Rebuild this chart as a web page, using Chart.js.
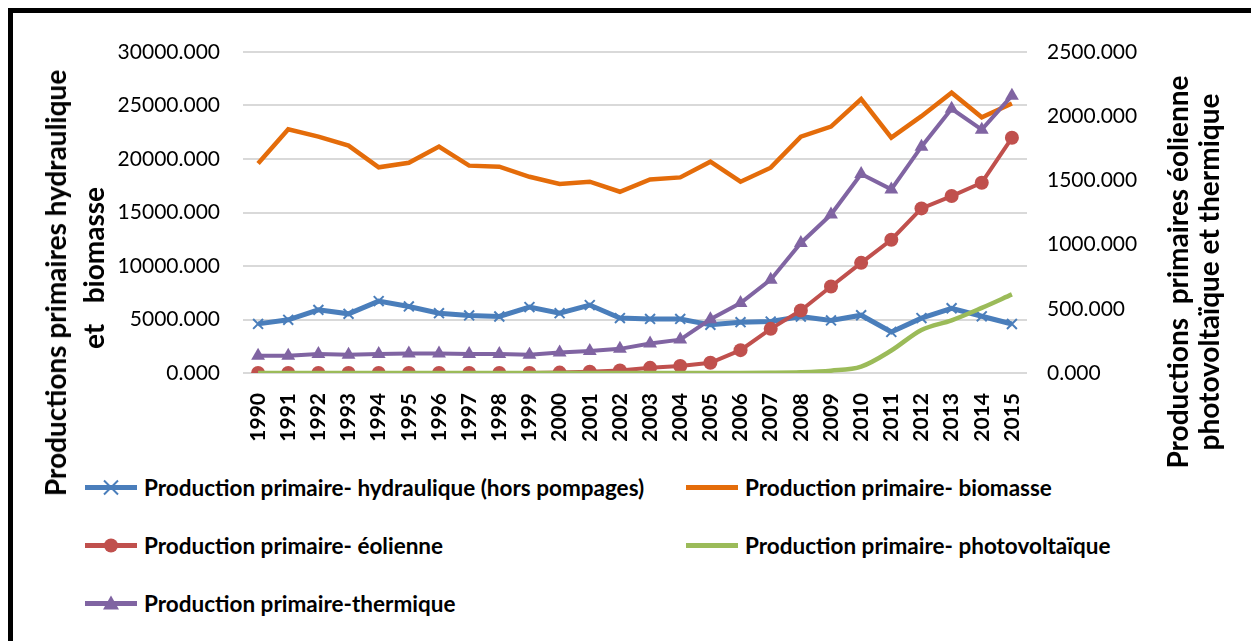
<!DOCTYPE html>
<html lang="fr">
<head>
<meta charset="utf-8">
<title>Productions primaires</title>
<script src="https://cdn.jsdelivr.net/npm/chart.js@4.4.1/dist/chart.umd.min.js"></script>
<style>
    body { margin: 0; background: #fff; font-family: Lato, "Open Sans", sans-serif; }
    #wrap { position: relative; width: 1251px; height: 641px; overflow: hidden; background: #fff; }
    #frame { position: absolute; left: 8px; top: 8px; right: -20px; bottom: -20px; border-top: 5px solid #000; border-left: 5px solid #000; }
    #box { position: absolute; left: 0; top: 0; width: 1251px; height: 470px; }
    .ytitle { position: absolute; font-weight: bold; font-size: 28px; white-space: nowrap; color: #000;
              transform: translate(-50%, -50%) rotate(-90deg); }
    .leg { position: absolute; display: flex; align-items: center; font-weight: bold; font-size: 22.5px;
           white-space: nowrap; color: #000; transform: translateY(-50%); }
    .leg svg { margin-right: 7px; }
</style>
</head>
<body>
<div id="wrap">
    <div id="frame"></div>
    <div id="box"><canvas id="chart"></canvas></div>

    <div class="ytitle" style="left:55px; top:283px;">Productions primaires hydraulique</div>
    <div class="ytitle" style="left:93px; top:268px;">et&nbsp;&nbsp;&nbsp;biomasse</div>
    <div class="ytitle" style="left:1177px; top:272px;">Productions&nbsp;&nbsp;primaires éolienne</div>
    <div class="ytitle" style="left:1208px; top:272px;">photovoltaïque et thermique</div>

    <div id="legend"></div>
</div>

<script>
const years = [
    "1990", "1991", "1992", "1993", "1994", "1995", "1996", "1997", "1998",
    "1999", "2000", "2001", "2002", "2003", "2004", "2005", "2006", "2007",
    "2008", "2009", "2010", "2011", "2012", "2013", "2014", "2015"
];

// left axis
const hydraulique = [
    4590, 4970, 5900, 5530, 6720, 6220, 5590, 5380, 5280, 6160, 5590, 6350, 5130,
    5050, 5050, 4500, 4750, 4810, 5280, 4910, 5400, 3840, 5130, 6050, 5300, 4580
];
const biomasse = [
    19590, 22780, 22090, 21250, 19220, 19650, 21160, 19380, 19280, 18340, 17660, 17880, 16940,
    18090, 18280, 19750, 17880, 19190, 22090, 23030, 25600, 22000, 24000, 26200, 23900, 25180
];

// right axis
const eolienne = [
    0, 0, 0, 0, 0, 0, 0, 0, 0, 0, 3, 10, 20,
    40, 55, 80, 178, 344, 487, 674, 858, 1038, 1282, 1378, 1482, 1832
];
const photovoltaique = [
    0, 0, 0, 0, 0, 0, 0, 0, 0, 0, 0, 0, 0,
    0, 0, 0, 0, 1, 5, 18, 50, 175, 335, 410, 507, 612
];
const thermique = [
    135, 135, 148, 143, 148, 152, 152, 148, 148, 143, 160, 172, 188,
    230, 260, 418, 545, 727, 1013, 1234, 1550, 1430, 1763, 2058, 1895, 2160
];

const leftTicks = [0, 5000, 10000, 15000, 20000, 25000, 30000];
const rightTicks = [0, 500, 1000, 1500, 2000, 2500];

const BLUE = "#4A7EBB";
const ORANGE = "#E46C0A";
const RED = "#C0504D";
const GREEN = "#9BBB59";
const PURPLE = "#8064A2";

const tickFont = { family: "Lato", size: 21 };

const ctx = document.getElementById("chart");

const chart = new Chart(ctx, {

    type: "line",

    data: {

        labels: years,

        datasets: [

            {
                label: "Production primaire- hydraulique (hors pompages)",
                data: hydraulique,
                yAxisID: "y",
                borderColor: BLUE,
                backgroundColor: BLUE,
                borderWidth: 5,
                pointStyle: "crossRot",
                pointRadius: 7,
                pointBorderWidth: 2,
                order: 5
            },

            {
                label: "Production primaire- biomasse",
                data: biomasse,
                yAxisID: "y",
                borderColor: ORANGE,
                backgroundColor: ORANGE,
                borderWidth: 4.5,
                pointRadius: 0,
                order: 4
            },

            {
                label: "Production primaire- éolienne",
                data: eolienne,
                yAxisID: "y1",
                borderColor: RED,
                backgroundColor: RED,
                borderWidth: 4,
                pointStyle: "circle",
                pointRadius: 7,
                pointBorderWidth: 0,
                order: 3
            },

            {
                label: "Production primaire- photovoltaïque",
                data: photovoltaique,
                yAxisID: "y1",
                borderColor: GREEN,
                backgroundColor: GREEN,
                borderWidth: 4.5,
                pointRadius: 0,
                tension: 0.4,
                cubicInterpolationMode: "monotone",
                order: 2
            },

            {
                label: "Production primaire-thermique",
                data: thermique,
                yAxisID: "y1",
                borderColor: PURPLE,
                backgroundColor: PURPLE,
                borderWidth: 4,
                pointStyle: "triangle",
                pointRadius: 8,
                pointBorderWidth: 0,
                order: 1
            }

        ]

    },

    options: {

        responsive: true,
        maintainAspectRatio: false,
        animation: false,

        layout: {
            padding: { left: 110, top: 52, right: 0, bottom: 0 }
        },

        plugins: {
            legend: { display: false },
            tooltip: { enabled: false }
        },

        scales: {

            x: {
                offset: true,
                grid: { display: false },
                border: { display: false },
                ticks: {
                    autoSkip: false,
                    minRotation: 90,
                    maxRotation: 90,
                    padding: 12,
                    color: "#000",
                    font: { family: "Lato", size: 21, weight: "bold" }
                },
                afterFit: s => { s.height = 97; }
            },

            y: {
                position: "left",
                min: 0,
                max: 30000,
                afterBuildTicks: s => { s.ticks = leftTicks.map(v => ({ value: v })); },
                grid: { color: "#D9D9D9", lineWidth: 2, drawTicks: false },
                border: { display: false },
                ticks: {
                    padding: 23,
                    color: "#000",
                    font: tickFont,
                    callback: v => v.toFixed(3)
                },
                afterFit: s => { s.width = 133; }
            },

            y1: {
                position: "right",
                min: 0,
                max: 2500,
                afterBuildTicks: s => { s.ticks = rightTicks.map(v => ({ value: v })); },
                grid: { display: false, drawTicks: false },
                border: { display: false },
                ticks: {
                    padding: 20,
                    color: "#000",
                    font: tickFont,
                    callback: v => v.toFixed(3)
                },
                afterFit: s => { s.width = 224; }
            }

        }

    }

});


/* LEGEND (two columns, like the original) */

const legendSpots = [
    { x: 85, y: 487 },
    { x: 686, y: 487 },
    { x: 85, y: 545 },
    { x: 686, y: 545 },
    { x: 85, y: 603 }
];

function markerSvg(ds) {
    const c = ds.borderColor;
    let m = "";
    if (ds.pointStyle === "crossRot") {
        m = `<path d="M19 3 L33 17 M33 3 L19 17" stroke="${c}" stroke-width="2"/>`;
    } else if (ds.pointStyle === "circle") {
        m = `<circle cx="26" cy="10" r="7" fill="${c}"/>`;
    } else if (ds.pointStyle === "triangle") {
        m = `<path d="M26 2 L34 16 L18 16 Z" fill="${c}"/>`;
    }
    return `<svg width="52" height="20" viewBox="0 0 52 20">` +
        `<line x1="0" y1="10" x2="52" y2="10" stroke="${c}" stroke-width="5"/>` + m + `</svg>`;
}

const legend = document.getElementById("legend");

chart.data.datasets.forEach((ds, i) => {
    const item = document.createElement("div");
    item.className = "leg";
    item.style.left = legendSpots[i].x + "px";
    item.style.top = legendSpots[i].y + "px";
    item.innerHTML = markerSvg(ds) + "<span></span>";
    item.querySelector("span").textContent = ds.label;
    legend.appendChild(item);
});
</script>
</body>
</html>
